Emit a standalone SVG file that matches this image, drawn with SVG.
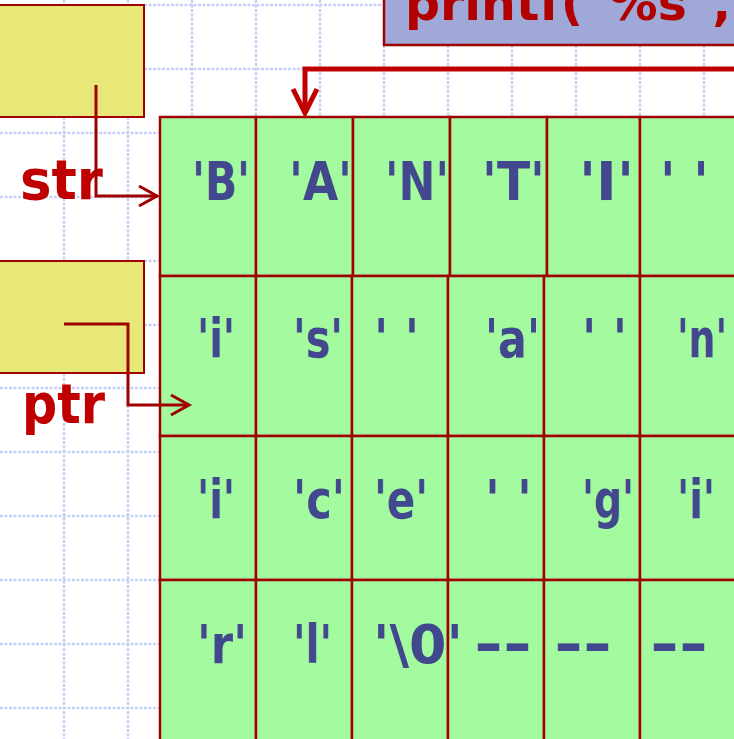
<svg xmlns="http://www.w3.org/2000/svg" width="734" height="739" viewBox="0 0 734 739">
<style>
.grid{fill:none;stroke:#c6d1f8;stroke-width:2.5;stroke-dasharray:3 1.5}
.var{fill:#e8e878;stroke:#a00000;stroke-width:2}
.cell{fill:#a4fa9e;stroke:#a00000;stroke-width:2.5}
.ch{font-family:"Comic Sans MS","DejaVu Sans",sans-serif;font-weight:bold;font-size:54px;fill:#42488e}
.lbl{font-family:"Comic Sans MS","DejaVu Sans",sans-serif;font-weight:bold;font-size:55px;fill:#c00000}
.code{font-family:"Comic Sans MS","DejaVu Sans",sans-serif;font-weight:bold;font-size:48px;fill:#b00000}
.ptr{fill:none;stroke:#a00000;stroke-width:3}
.call{fill:none;stroke:#c00000;stroke-width:5}
</style>
<defs>
<marker id="ah" markerUnits="userSpaceOnUse" viewBox="0 0 22 24" markerWidth="22" markerHeight="24" refX="20" refY="12" orient="auto" overflow="visible"><path d="M2,2 L20,12 L2,22" fill="none" stroke="#a00000" stroke-width="3"/></marker>
<marker id="ahb" markerUnits="userSpaceOnUse" viewBox="0 0 30 32" markerWidth="30" markerHeight="32" refX="27" refY="16" orient="auto" overflow="visible"><path d="M3,4 L27,16 L3,28" fill="none" stroke="#c00000" stroke-width="5"/></marker>
</defs>
<rect width="734" height="739" fill="#ffffff"/>
<path class="grid" d="M64,0V739M128,0V739M192,0V739M256,0V739M320,0V739M384,0V739M448,0V739M512,0V739M576,0V739M640,0V739M704,0V739M0,5H734M0,69H734M0,133H734M0,197H734M0,261H734M0,325H734M0,388H734M0,452H734M0,516H734M0,580H734M0,644H734M0,708H734"/>

<g id="printf">
<rect x="384" y="-10" width="360" height="55" fill="#a0a8d8" stroke="#a00000" stroke-width="2.5"/>
<text class="code" x="405" y="20" textLength="326" lengthAdjust="spacingAndGlyphs">printf("%s",</text>
</g>

<g id="str">
<rect class="var" x="-2" y="5" width="146" height="112"/>
<text class="lbl" x="20" y="199" textLength="83" lengthAdjust="spacingAndGlyphs">str</text>
</g>

<g id="ptr">
<rect class="var" x="-2" y="261" width="146" height="112"/>
<text class="lbl" x="22" y="423" textLength="83" lengthAdjust="spacingAndGlyphs">ptr</text>
</g>

<g id="array">
<g id="row1">
<rect class="cell" x="160" y="117" width="96" height="159"/>
<rect class="cell" x="256" y="117" width="97" height="159"/>
<rect class="cell" x="353" y="117" width="97" height="159"/>
<rect class="cell" x="450" y="117" width="97" height="159"/>
<rect class="cell" x="547" y="117" width="93" height="159"/>
<rect class="cell" x="640" y="117" width="100" height="159"/>
</g>
<g id="row2">
<rect class="cell" x="160" y="276" width="96" height="160"/>
<rect class="cell" x="256" y="276" width="96" height="160"/>
<rect class="cell" x="352" y="276" width="96" height="160"/>
<rect class="cell" x="448" y="276" width="96" height="160"/>
<rect class="cell" x="544" y="276" width="96" height="160"/>
<rect class="cell" x="640" y="276" width="100" height="160"/>
</g>
<g id="row3">
<rect class="cell" x="160" y="436" width="96" height="144"/>
<rect class="cell" x="256" y="436" width="96" height="144"/>
<rect class="cell" x="352" y="436" width="96" height="144"/>
<rect class="cell" x="448" y="436" width="96" height="144"/>
<rect class="cell" x="544" y="436" width="96" height="144"/>
<rect class="cell" x="640" y="436" width="100" height="144"/>
</g>
<g id="row4">
<rect class="cell" x="160" y="580" width="96" height="170"/>
<rect class="cell" x="256" y="580" width="96" height="170"/>
<rect class="cell" x="352" y="580" width="96" height="170"/>
<rect class="cell" x="448" y="580" width="96" height="170"/>
<rect class="cell" x="544" y="580" width="96" height="170"/>
<rect class="cell" x="640" y="580" width="100" height="170"/>
</g>
<g id="chars">
<text class="ch" x="192" y="200" textLength="58" lengthAdjust="spacingAndGlyphs">'B'</text>
<text class="ch" x="289" y="200" textLength="63" lengthAdjust="spacingAndGlyphs">'A'</text>
<text class="ch" x="385" y="200" textLength="64" lengthAdjust="spacingAndGlyphs">'N'</text>
<text class="ch" x="482" y="200" textLength="63" lengthAdjust="spacingAndGlyphs">'T'</text>
<text class="ch" x="579" y="200" textLength="55" lengthAdjust="spacingAndGlyphs">'I'</text>
<text class="ch" x="660" y="200" textLength="49" lengthAdjust="spacingAndGlyphs">' '</text>

<text class="ch" x="197" y="357" textLength="38" lengthAdjust="spacingAndGlyphs">'i'</text>
<text class="ch" x="293" y="357" textLength="50" lengthAdjust="spacingAndGlyphs">'s'</text>
<text class="ch" x="374" y="357" textLength="45" lengthAdjust="spacingAndGlyphs">' '</text>
<text class="ch" x="485" y="357" textLength="55" lengthAdjust="spacingAndGlyphs">'a'</text>
<text class="ch" x="582" y="357" textLength="45" lengthAdjust="spacingAndGlyphs">' '</text>
<text class="ch" x="677" y="357" textLength="50" lengthAdjust="spacingAndGlyphs">'n'</text>

<text class="ch" x="197" y="518" textLength="38" lengthAdjust="spacingAndGlyphs">'i'</text>
<text class="ch" x="293" y="518" textLength="52" lengthAdjust="spacingAndGlyphs">'c'</text>
<text class="ch" x="374" y="518" textLength="54" lengthAdjust="spacingAndGlyphs">'e'</text>
<text class="ch" x="485" y="518" textLength="47" lengthAdjust="spacingAndGlyphs">' '</text>
<text class="ch" x="582" y="518" textLength="52" lengthAdjust="spacingAndGlyphs">'g'</text>
<text class="ch" x="677" y="518" textLength="38" lengthAdjust="spacingAndGlyphs">'i'</text>

<text class="ch" x="197" y="663" textLength="50" lengthAdjust="spacingAndGlyphs">'r'</text>
<text class="ch" x="293" y="663" textLength="39" lengthAdjust="spacingAndGlyphs">'l'</text>
<text class="ch" x="373" y="663" textLength="90" lengthAdjust="spacingAndGlyphs">'\0'</text>
<text class="ch" x="474" y="663" textLength="58" lengthAdjust="spacingAndGlyphs">--</text>
<text class="ch" x="554" y="663" textLength="58" lengthAdjust="spacingAndGlyphs">--</text>
<text class="ch" x="650" y="663" textLength="58" lengthAdjust="spacingAndGlyphs">--</text>
</g>
</g>

<g id="connectors">
<path class="call" d="M740,69 H305 V113" marker-end="url(#ahb)"/>
<path class="ptr" d="M96,85 V196 H157" marker-end="url(#ah)"/>
<path class="ptr" d="M64,324 H128 V405 H189" marker-end="url(#ah)"/>
</g>
</svg>
